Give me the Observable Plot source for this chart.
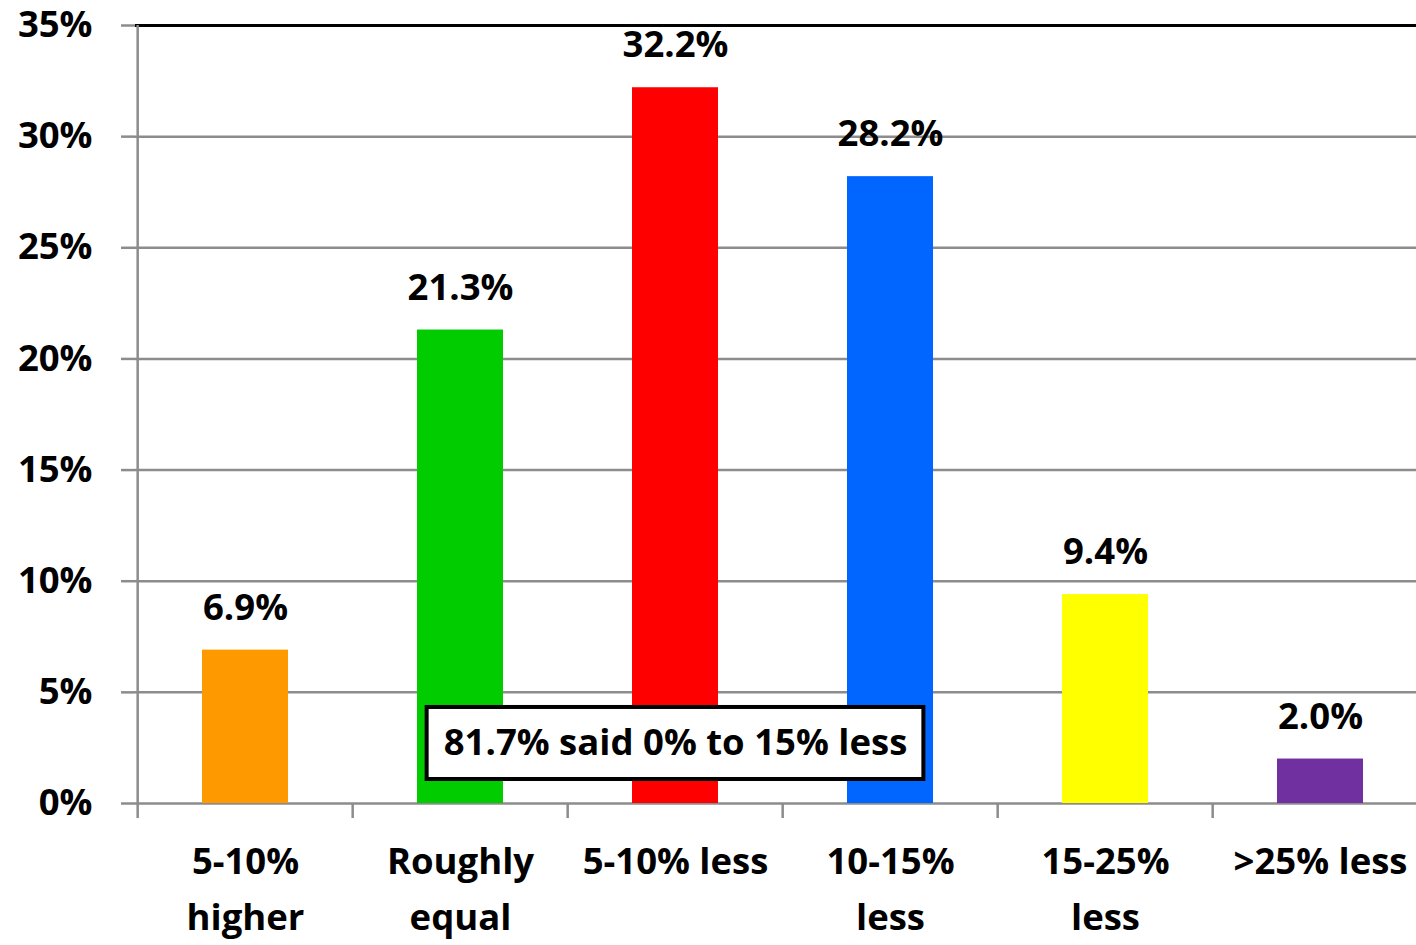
<!DOCTYPE html>
<html>
<head>
<meta charset="utf-8">
<script src="https://cdn.jsdelivr.net/npm/d3@7"></script>
<script src="https://cdn.jsdelivr.net/npm/@observablehq/plot@0.6"></script>
<style>
  html, body { margin: 0; padding: 0; background: #fff; }
  #chart svg { display: block; overflow: visible; }
</style>
</head>
<body>
<div id="chart"></div>
<script>
const categories = ["5-10% higher", "Roughly equal", "5-10% less", "10-15% less", "15-25% less", ">25% less"];
const axisLabels = ["5-10%\nhigher", "Roughly\nequal", "5-10% less", "10-15%\nless", "15-25%\nless", ">25% less"];
const values = [6.9, 21.3, 32.2, 28.2, 9.4, 2.0];
const colors = ["#FF9900", "#00CC00", "#FF0000", "#0066FF", "#FFFF00", "#7030A0"];
const yTicks = [0, 5, 10, 15, 20, 25, 30, 35];
const annotation = [{category: "5-10% less", y1: 1.08, y2: 4.32, y: 2.7, text: "81.7% said 0% to 15% less"}];

const data = categories.map((c, i) => ({category: c, value: values[i], color: colors[i], label: axisLabels[i]}));

const FONT = "'Open Sans', sans-serif";
const FS = 36.5;
const gray = "#8c8c8c";
const step = (1429 - 135) / 6;

const chart = Plot.plot({
  width: 1416,
  height: 945,
  marginTop: 25,
  marginBottom: 142,
  marginLeft: 135,
  marginRight: 0,
  style: {fontFamily: FONT, fontWeight: "bold", fontSize: FS + "px", color: "#000", background: "#fff"},
  x: {domain: categories, range: [135, 1429], paddingInner: 0.6, paddingOuter: 0.3, axis: null},
  y: {domain: [0, 35], axis: null},
  marks: [
    // gridlines
    Plot.ruleY(yTicks.filter(d => d < 35), {y: d => d, stroke: gray, strokeWidth: 2.5}),
    Plot.ruleY([35], {stroke: "#000", strokeWidth: 3}),
    // y axis ticks + labels
    Plot.axisY({
      ticks: yTicks,
      tickFormat: d => d + "%",
      tickSize: 14,
      tickPadding: 29,
      stroke: gray,
      strokeWidth: 2.5,
      fill: "#000",
      fontSize: FS,
      fontWeight: "bold",
      label: null
    }),
    // bars
    Plot.barY(data, {x: "category", y: "value", fill: "color"}),
    // y axis line
    Plot.ruleX(data.slice(0, 1), {x: "category", y1: 35, y2: 0, dx: -step / 2, stroke: gray, strokeWidth: 2.5, insetBottom: -15}),
    // category boundary ticks
    Plot.ruleX(data.slice(1), {x: "category", y1: 0, y2: 0, dx: -step / 2, stroke: gray, strokeWidth: 2.5, insetBottom: -15}),
    // value labels
    Plot.text(data, {x: "category", y: "value", text: d => d.value.toFixed(1) + "%", dy: -42, fontSize: FS, fontWeight: "bold", fill: "#000"}),
    // category labels
    Plot.text(data, {x: "category", y: 0, text: "label", lineAnchor: "top", dy: 31, lineHeight: 1.53, fontSize: FS, fontWeight: "bold", fill: "#000"}),
    // annotation box
    Plot.barY(annotation, {x: "category", y1: "y1", y2: "y2", fill: "#fff", stroke: "#000", strokeWidth: 4, insetLeft: -(497 - step * 0.4) / 2, insetRight: -(497 - step * 0.4) / 2}),
    Plot.text(annotation, {x: "category", y: "y", text: "text", fontSize: FS, fontWeight: "bold", fill: "#000"})
  ]
});
document.getElementById("chart").appendChild(chart);
</script>
</body>
</html>
